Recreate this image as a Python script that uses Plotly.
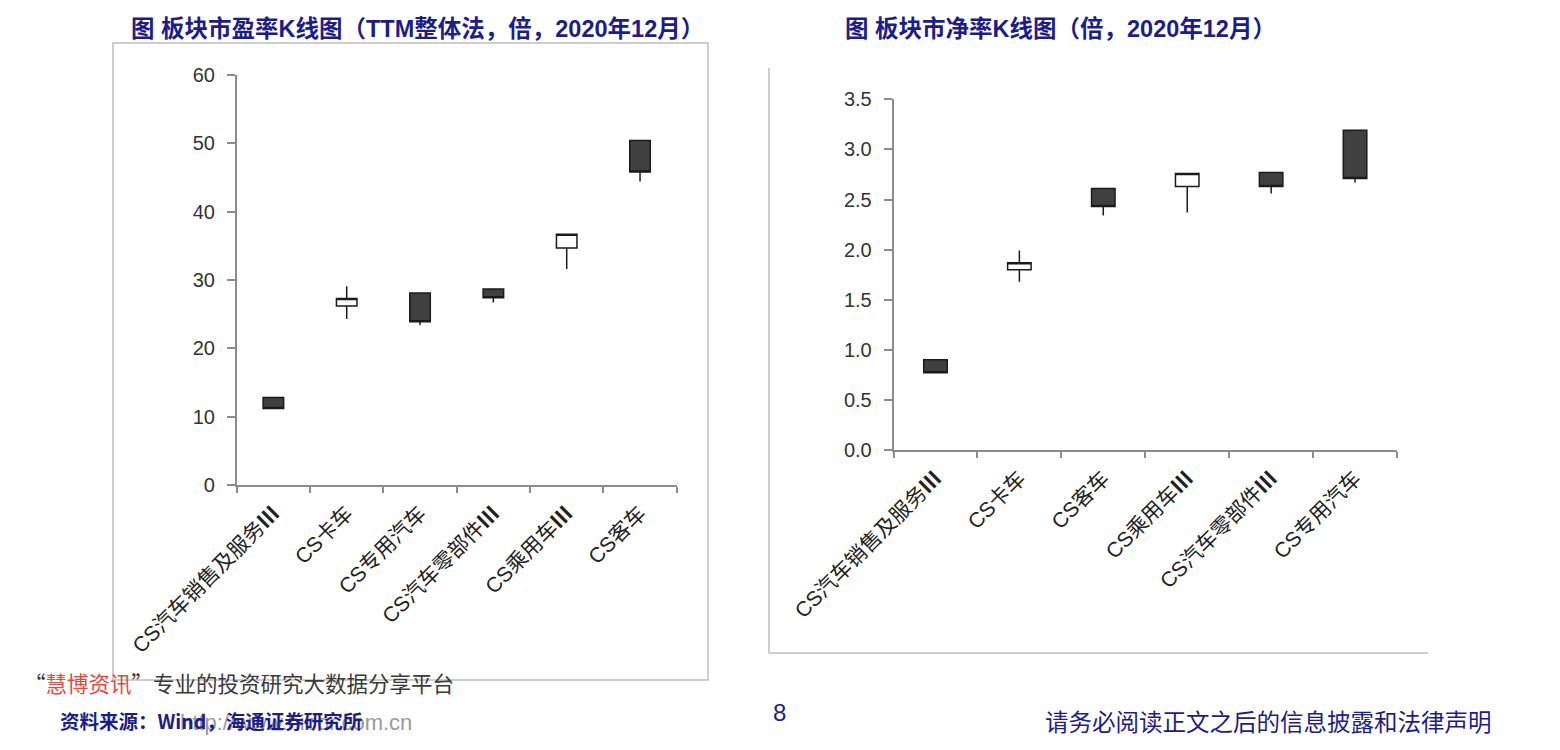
import plotly.graph_objects as go

# ---------------- data ----------------
pe_categories = ["CS汽车销售及服务Ⅲ", "CS卡车", "CS专用汽车", "CS汽车零部件Ⅲ", "CS乘用车Ⅲ", "CS客车"]
pe_open = [12.8, 26.2, 28.1, 28.7, 34.7, 50.4]
pe_high = [12.8, 29.1, 28.1, 28.7, 36.7, 50.4]
pe_low = [11.2, 24.3, 23.4, 26.7, 31.6, 44.4]
pe_close = [11.2, 27.3, 23.9, 27.4, 36.7, 45.8]

pb_categories = ["CS汽车销售及服务Ⅲ", "CS卡车", "CS客车", "CS乘用车Ⅲ", "CS汽车零部件Ⅲ", "CS专用汽车"]
pb_open = [0.90, 1.80, 2.61, 2.63, 2.77, 3.19]
pb_high = [0.90, 1.99, 2.61, 2.76, 2.77, 3.19]
pb_low = [0.77, 1.68, 2.34, 2.37, 2.56, 2.67]
pb_close = [0.77, 1.87, 2.43, 2.76, 2.63, 2.71]

title_pe = "图 板块市盈率K线图（TTM整体法，倍，2020年12月）"
title_pb = "图 板块市净率K线图（倍，2020年12月）"

W, H = 1560, 750
NAVY = "#1c1c8a"
FONT = "Liberation Sans, Noto Sans CJK SC, sans-serif"
CJK = "Noto Sans CJK SC, Liberation Sans, sans-serif"


def px_x(p):
    return p / W


def px_y(p):
    return 1 - p / H


def bold_roman(labels):
    return [s.replace("Ⅲ", "<b>Ⅲ</b>") for s in labels]


fig = go.Figure()

common = dict(
    increasing=dict(fillcolor="#ffffff", line=dict(color="#1a1a1a", width=1.5)),
    decreasing=dict(fillcolor="#404040", line=dict(color="#1a1a1a", width=1.5)),
    whiskerwidth=0,
    showlegend=False,
)

fig.add_trace(go.Candlestick(x=pe_categories, open=pe_open, high=pe_high, low=pe_low,
                             close=pe_close, xaxis="x", yaxis="y", **common))
fig.add_trace(go.Candlestick(x=pb_categories, open=pb_open, high=pb_high, low=pb_low,
                             close=pb_close, xaxis="x2", yaxis="y2", **common))

xcommon = dict(
    type="category",
    automargin=False,
    showgrid=False,
    zeroline=False,
    showline=True,
    linecolor="#8c8c8c",
    linewidth=1.5,
    ticks="outside",
    tickson="boundaries",
    ticklen=6,
    tickcolor="#8c8c8c",
    tickwidth=1.5,
    tickangle=-45,
    ticklabelstandoff=6,
    tickfont=dict(family=FONT, size=21, color="#222222"),
    rangeslider=dict(visible=False),
    fixedrange=True,
)
ycommon = dict(
    automargin=False,
    showgrid=False,
    zeroline=False,
    showline=True,
    linecolor="#8c8c8c",
    linewidth=1.5,
    ticks="outside",
    ticklen=8,
    tickcolor="#8c8c8c",
    tickwidth=1.5,
    tickfont=dict(family=FONT, size=20, color="#333333"),
    ticklabelstandoff=8,
    fixedrange=True,
)

fig.update_layout(
    width=W, height=H,
    autosize=False,
    margin=dict(l=0, r=0, t=0, b=0, pad=0, autoexpand=False),
    paper_bgcolor="white",
    plot_bgcolor="white",
    boxgap=0.6,
    xaxis=dict(domain=[px_x(236.7), px_x(676.7)], anchor="y", range=[-0.5, 5.5],
               tickvals=pe_categories, ticktext=bold_roman(pe_categories), **xcommon),
    yaxis=dict(domain=[px_y(485), px_y(75)], anchor="x", range=[0, 60], dtick=10, **ycommon),
    xaxis2=dict(domain=[px_x(893.5), px_x(1397)], anchor="y2", range=[-0.5, 5.5],
                tickvals=pb_categories, ticktext=bold_roman(pb_categories), **xcommon),
    yaxis2=dict(domain=[px_y(450), px_y(99.3)], anchor="x2", range=[0, 3.5], dtick=0.5,
                tickformat=".1f", **ycommon),
)

# frames around the charts
shapes = [
    dict(type="rect", xref="paper", yref="paper",
         x0=px_x(113), x1=px_x(708), y0=px_y(680), y1=px_y(43),
         line=dict(color="#bdbdbd", width=1.5), fillcolor="rgba(0,0,0,0)"),
    dict(type="line", xref="paper", yref="paper",
         x0=px_x(769), x1=px_x(769), y0=px_y(68), y1=px_y(653),
         line=dict(color="#bdbdbd", width=1.5)),
    dict(type="line", xref="paper", yref="paper",
         x0=px_x(769), x1=px_x(1428), y0=px_y(653), y1=px_y(653),
         line=dict(color="#bdbdbd", width=1.5)),
]
fig.update_layout(shapes=shapes)

ann = []
ann.append(dict(text="<b>" + title_pe + "</b>", x=px_x(417), y=px_y(29), xref="paper", yref="paper",
                showarrow=False, xanchor="center", yanchor="middle",
                font=dict(family=FONT, size=23.5, color=NAVY)))
ann.append(dict(text="<b>" + title_pb + "</b>", x=px_x(1060), y=px_y(29), xref="paper", yref="paper",
                showarrow=False, xanchor="center", yanchor="middle",
                font=dict(family=FONT, size=23.5, color=NAVY)))
# footer
ann.append(dict(text="“<span style='color:#e8473f'>慧博资讯</span>”专业的投资研究大数据分享平台",
                x=px_x(22), y=px_y(682), xref="paper", yref="paper", showarrow=False,
                xanchor="left", yanchor="middle",
                font=dict(family=CJK, size=21.5, color="#3a3a3a")))
ann.append(dict(text="http://www.hibor.com.cn", x=px_x(178), y=px_y(722), xref="paper", yref="paper",
                showarrow=False, xanchor="left", yanchor="middle",
                font=dict(family=FONT, size=22, color="#9a9a9a")))
ann.append(dict(text="<b>资料来源：Wind，海通证券研究所</b>", x=px_x(58), y=px_y(720), xref="paper", yref="paper",
                showarrow=False, xanchor="left", yanchor="middle",
                font=dict(family=CJK, size=19.5, color=NAVY)))
ann.append(dict(text="8", x=px_x(779), y=px_y(712), xref="paper", yref="paper",
                showarrow=False, xanchor="center", yanchor="middle",
                font=dict(family=FONT, size=24, color=NAVY)))
ann.append(dict(text="请务必阅读正文之后的信息披露和法律声明", x=px_x(1268), y=px_y(721), xref="paper", yref="paper",
                showarrow=False, xanchor="center", yanchor="middle",
                font=dict(family=CJK, size=23.5, color=NAVY)))
fig.update_layout(annotations=ann)

fig.write_html("out.html")
